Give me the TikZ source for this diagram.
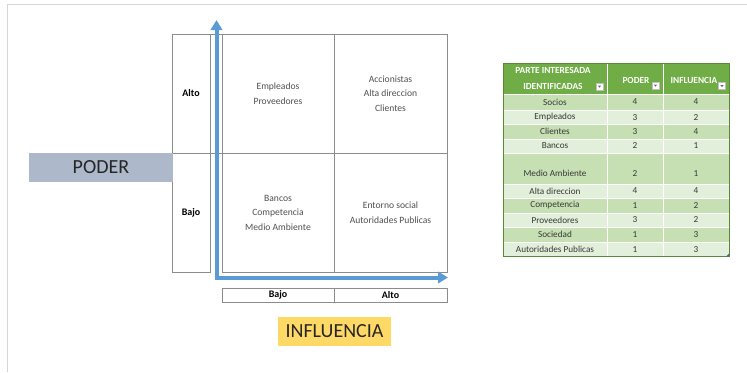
\documentclass[tikz,border=0pt]{standalone}
\usepackage{fontspec}
\setmainfont{Carlito}
\usetikzlibrary{arrows.meta}
\definecolor{gridline}{HTML}{8C8C8C}
\definecolor{celltext}{HTML}{505050}
\definecolor{arrowblue}{HTML}{5B9BD5}
\definecolor{podfill}{HTML}{ADB9CA}
\definecolor{inffill}{HTML}{FFD966}
\definecolor{hdrgreen}{HTML}{70AD47}
\definecolor{rowdark}{HTML}{C6E0B4}
\definecolor{rowlight}{HTML}{E2EFDA}
\definecolor{frameline}{HTML}{D6D6D6}
\tikzset{
  sz/.style 2 args={minimum width=#1*0.75pt, minimum height=#2*0.75pt},
  gridcell/.style={draw=gridline, line width=0.6pt, inner sep=0pt, outer sep=0pt,
    align=center, text=celltext, font=\fontsize{7.2}{10.9}\selectfont},
  axislabel/.style={gridcell, text=black, font=\bfseries\fontsize{7.5}{8}\selectfont},
  bigtag/.style={inner sep=0pt, outer sep=0pt, font=\fontsize{15}{18}\selectfont, text=black!85},
  tcell/.style={draw=white, line width=0.6pt, inner sep=0pt, outer sep=0pt},
  ttext/.style={inner sep=0pt, text=black!78, font=\fontsize{6.9}{8}\selectfont},
  thead/.style={tcell, fill=hdrgreen},
  theadtext/.style={inner sep=0pt, text=white, align=center, font=\bfseries\fontsize{7}{12.3}\selectfont},
  axisarrow/.style={draw=arrowblue, line width=3pt, -{Triangle[length=7.5pt,width=8.5pt]}},
  dropbtn/.style={draw=black!25, fill=white, line width=0.3pt, sz={7}{7}, inner sep=0pt}
}
\begin{document}
\begin{tikzpicture}[x=0.75pt,y=-0.75pt]
\useasboundingbox (0,0) rectangle (747,372);
\fill[white] (0,0) rectangle (747,372);
% outer frame
\draw[frameline, line width=1.1pt] (7.5,372) -- (7.5,4.5) -- (747,4.5);

% ---- matrix ----
\node[axislabel, sz={38}{119}] (alto) at (191,93.5) {Alto};
\node[axislabel, sz={38}{119}] (bajo) at (191,212.5) {Bajo};
\node[gridcell, sz={112}{119}] (c11) at (278,93.5) {Empleados\\Proveedores};
\node[gridcell, sz={113}{119}] (c12) at (390.5,93.5) {Accionistas\\Alta direccion\\Clientes};
\node[gridcell, sz={112}{119}] (c21) at (278,212.5) {Bancos\\Competencia\\Medio Ambiente};
\node[gridcell, sz={113}{119}] (c22) at (390.5,212.5) {Entorno social\\Autoridades Publicas};
\draw[gridline, line width=0.6pt] (alto.north east) -- (c11.north west);
\draw[gridline, line width=0.6pt] (alto.south east) -- (c11.south west);

\node[axislabel, sz={112}{14}] (bx1) at (278,295) {Bajo};
\node[axislabel, sz={113}{14}] (bx2) at (390.5,295) {Alto};

% axes
\coordinate (origin) at (216.5,277.5);
\coordinate (ytip) at (216.5,20);
\coordinate (xtip) at (448,277.5);
\draw[axisarrow] ([yshift=-1.5pt]origin) -- (ytip);
\draw[axisarrow] ([xshift=-1.5pt]origin) -- (xtip);

% tags
\node[bigtag, fill=podfill, sz={144}{29}] (poder) at (101,167.5) {PODER};
\node[bigtag, fill=inffill, sz={113}{29}] (influ) at (334.5,331.5) {INFLUENCIA};

% ---- table ----
\node[thead, sz={104}{31}] (h1) at (555,78.5) {};
\node[thead, sz={56}{31}] (h2) at (635,78.5) {};
\node[thead, sz={66}{31}] (h3) at (696,78.5) {};
\node[theadtext] (h1t) at (553,78.5) {PARTE INTERESADA\\IDENTIFICADAS};
\node[theadtext] (h2t) at (636,80) {PODER};
\node[theadtext] (h3t) at (694,80) {INFLUENCIA};
\node[dropbtn] (d1) at (599.5,86.5) {};
\node[dropbtn] (d2) at (655.5,85.5) {};
\node[dropbtn] (d3) at (722,86) {};
\foreach \d in {d1,d2,d3}{
  \fill[black!60] ([xshift=-1.2pt,yshift=0.6pt]\d.center) -- ++(2.4pt,0) -- ++(-1.2pt,-1.4pt) -- cycle;
}

\foreach \nm/\p/\i/\ya/\yb/\fc/\dy [count=\k] in {
  Socios/4/4/94/110/rowdark/0,
  Empleados/3/2/110/124.5/rowlight/0,
  Clientes/3/4/124.5/139/rowdark/0,
  Bancos/2/1/139/153/rowlight/0,
  Medio Ambiente/2/1/153/184/rowdark/5,
  Alta direccion/4/4/184/198/rowlight/0,
  Competencia/1/2/198/213/rowdark/0,
  Proveedores/3/2/213/227/rowlight/0,
  Sociedad/1/3/227/242/rowdark/0,
  Autoridades Publicas/1/3/242/256.5/rowlight/0}{
  \pgfmathsetmacro\yc{(\ya+\yb)/2}
  \pgfmathsetmacro\hh{\yb-\ya}
  \pgfmathsetmacro\yt{\yc+\dy}
  \node[tcell, fill=\fc, sz={104}{\hh}] (ra\k) at (555,\yc) {};
  \node[tcell, fill=\fc, sz={56}{\hh}] (rb\k) at (635,\yc) {};
  \node[tcell, fill=\fc, sz={66}{\hh}] (rc\k) at (696,\yc) {};
  \node[ttext] (la\k) at (555,\yt) {\nm};
  \node[ttext] (lb\k) at (635,\yt) {\p};
  \node[ttext] (lc\k) at (696,\yt) {\i};
}
\draw[hdrgreen!80!black, line width=0.4pt] (h1.north west) rectangle (rc10.south east);
\fill[arrowblue!70!black] (rc10.south east) -- ++(-3,0) -- ++(3,-3) -- cycle;
\end{tikzpicture}
\end{document}
